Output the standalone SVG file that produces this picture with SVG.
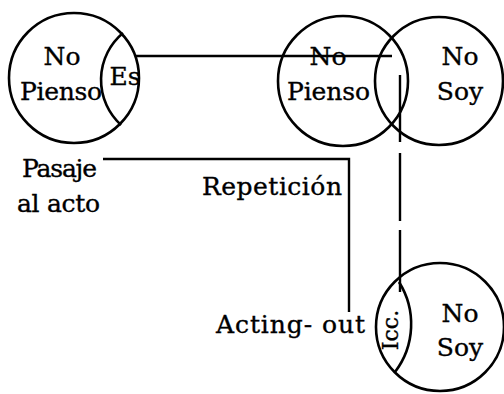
<svg xmlns="http://www.w3.org/2000/svg" width="504" height="394" viewBox="0 0 504 394">
<style>
.c{fill:none;stroke:#000;stroke-width:2.6}
.l{fill:none;stroke:#000;stroke-width:2.4}
text{font-family:"DejaVu Serif","Liberation Serif",serif;font-size:25px;fill:#000;stroke:#000;stroke-width:0.35}
</style>
<rect width="504" height="394" fill="#fff"/>
<g id="connectors">
<path class="l" d="M136,56 H392"/>
<path class="l" d="M400,75 V142 M400,153 V221 M400,230 V292"/>
<path class="l" d="M103,159 H349 V312"/>
</g>
<g id="node-top-left">
<circle class="c" cx="74" cy="78" r="65"/>
<path class="c" d="M123,33 A61,61 0 0 0 121,125"/>
<text x="62" y="65" text-anchor="middle">No</text>
<text x="20" y="100" textLength="82">Pienso</text>
<text x="125" y="85" text-anchor="middle">Es</text>
</g>
<g id="node-top-pair">
<circle class="c" cx="343" cy="81" r="65"/>
<circle class="c" cx="439" cy="81" r="64"/>
<text x="328" y="65" text-anchor="middle">No</text>
<text x="287" y="100" textLength="83">Pienso</text>
<text x="460" y="65" text-anchor="middle">No</text>
<text x="460" y="100" text-anchor="middle">Soy</text>
</g>
<g id="node-bottom">
<circle class="c" cx="440" cy="327" r="64"/>
<path class="c" d="M399,282 A79,79 0 0 1 395,372"/>
<text transform="translate(398,330) rotate(-90)" text-anchor="middle" style="font-size:22px">Icc.</text>
<text x="460" y="322" text-anchor="middle">No</text>
<text x="460" y="356" text-anchor="middle">Soy</text>
</g>
<g id="labels">
<text x="22" y="177" textLength="75">Pasaje</text>
<text x="17" y="212" textLength="83">al acto</text>
<text x="202" y="195" textLength="140">Repetición</text>
<text x="216" y="333" textLength="149">Acting- out</text>
</g>
</svg>
